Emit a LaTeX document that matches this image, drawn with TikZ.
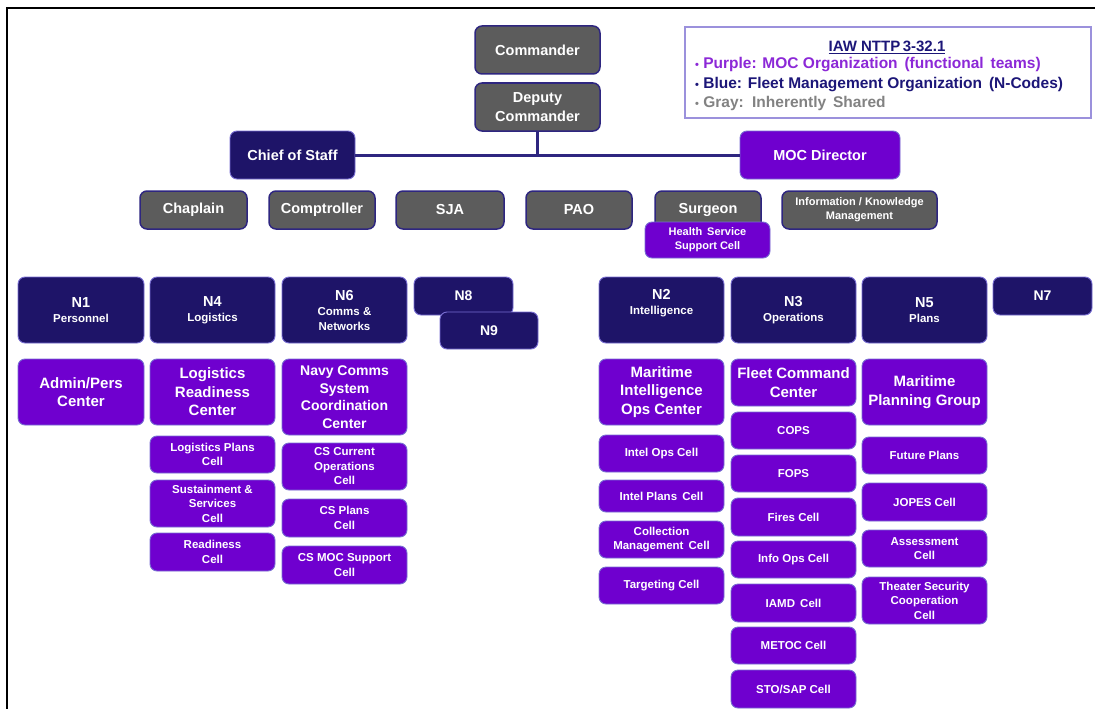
\documentclass[tikz,border=0pt]{standalone}
\usepackage{fontspec}
\setmainfont{Liberation Sans}
\begin{document}
\definecolor{grayfill}{RGB}{92,92,92}
\definecolor{navyfill}{RGB}{30,20,104}
\definecolor{purpfill}{RGB}{111,0,207}
\definecolor{navyline}{RGB}{46,38,128}
\definecolor{lavline}{RGB}{120,110,210}
\definecolor{legpurple}{RGB}{140,40,215}
\definecolor{legnavy}{RGB}{28,22,120}
\definecolor{leggray}{RGB}{130,130,130}
\definecolor{legborder}{RGB}{155,145,220}
\tikzset{
  base/.style={rounded corners=7pt, text=white, align=center, inner sep=0pt, outer sep=0pt},
  graybox/.style={base, fill=grayfill, draw=navyline, line width=1.5pt},
  navybox/.style={base, fill=navyfill, draw=lavline, line width=0.9pt},
  purpbox/.style={base, fill=purpfill, draw=lavline, line width=0.9pt},
  bigtxt/.style={font=\bfseries\fontsize{14.5}{19}\selectfont},
  centxt/.style={font=\bfseries\fontsize{15}{18.5}\selectfont},
  midtxt/.style={font=\bfseries\fontsize{14}{17.5}\selectfont},
  celltxt/.style={font=\bfseries\fontsize{11.5}{14.5}\selectfont},
  smalltxt/.style={font=\bfseries\fontsize{11}{14}\selectfont},
  codetxt/.style={font=\bfseries\fontsize{11.5}{15}\selectfont},
  conn/.style={draw=navyline, line width=3pt},
  legtxt/.style={font=\bfseries\fontsize{15.5}{18}\selectfont, anchor=west, inner sep=0pt}
}
% box from its corner coordinates: name, style, x1, y1, x2, y2, text
\newcommand\bx[7]{\node[#2,minimum width={#5pt-#3pt},minimum height={#6pt-#4pt}] (#1) at ({(#3+#5)/2},{(#4+#6)/2}) {#7};}
\newcommand\ncodebig{\fontsize{14.5}{16}\selectfont}
\newcommand\ncodesub{\fontsize{11.5}{14}\selectfont}
\newcommand\legdot{{\fontsize{11}{11}\selectfont •}}
\begin{tikzpicture}[x=1pt,y=-1pt]
\useasboundingbox (0,0) rectangle (1095,709);
\fill[white] (0,0) rectangle (1095,709);
% frame
\draw[line width=2pt] (7,709) -- (7,8) -- (1095,8);

% command group
\bx{cdr}{graybox,bigtxt}{475}{26}{600}{74}{Commander}
\bx{dep}{graybox,bigtxt}{475}{83}{600}{131}{Deputy\\Commander}
\bx{cos}{navybox,bigtxt}{230}{131}{355}{179}{Chief of Staff}
\bx{moc}{purpbox,bigtxt}{740}{131}{900}{179}{MOC Director}
\draw[conn] (cos.east) -- (moc.west);
\draw[conn] (dep.south) -- (dep.south |- cos.east);

% legend
\bx{legend}{draw=legborder, line width=1.3pt, fill=white}{685}{27}{1091}{118}{}
\node[font=\bfseries\fontsize{15}{18}\selectfont, text=legnavy, inner sep=0pt] (legtitle) at (887,47) {\underline{IAW NTTP\,3-32.1}};
\node[legtxt, text=legpurple] (legp) at (695,65) {\legdot\ Purple: MOC Organization\, (functional\, teams)};
\node[legtxt, text=legnavy] (legb) at (695,85) {\legdot\ Blue: Fleet Management Organization\, (N-Codes)};
\node[legtxt, text=leggray] (legg) at (695,103) {\legdot\ Gray:\, Inherently\, Shared};

% special staff
\bx{chap}{graybox,bigtxt}{140}{191}{247}{229}{Chaplain}
\bx{comp}{graybox,bigtxt}{269}{191}{375}{229}{Comptroller}
\bx{sja}{graybox,bigtxt}{396}{191}{504}{229}{SJA}
\bx{pao}{graybox,bigtxt}{526}{191}{632}{229}{PAO}
\bx{surg}{graybox,bigtxt}{655}{191}{761}{229}{Surgeon}
\bx{ikm}{graybox,smalltxt}{782}{191}{937}{229}{Information / Knowledge\\Management}
\bx{hssc}{purpbox,smalltxt}{645}{222}{770}{258}{Health\, Service\\Support Cell}

% N-codes
\bx{n1}{navybox,codetxt}{18}{277}{144}{343}{\ncodebig N1\\\ncodesub Personnel}
\bx{n4}{navybox,codetxt}{150}{277}{275}{343}{\ncodebig N4\\\ncodesub Logistics}
\bx{n6}{navybox,codetxt}{282}{277}{407}{343}{\ncodebig N6\\\ncodesub Comms \&\\\ncodesub Networks}
\bx{n8}{navybox,midtxt}{414}{277}{513}{315}{N8}
\bx{n9}{navybox,midtxt}{440}{312}{538}{349}{N9}
\bx{n2}{navybox,codetxt}{599}{277}{724}{343}{\ncodebig N2\\\ncodesub Intelligence\\[2pt]}
\bx{n3}{navybox,codetxt}{731}{277}{856}{343}{\ncodebig N3\\\ncodesub Operations}
\bx{n5}{navybox,codetxt}{862}{277}{987}{343}{\\[-4pt]\ncodebig N5\\\ncodesub Plans}
\bx{n7}{navybox,midtxt}{993}{277}{1092}{315}{N7}

% N1 / N4 / N6 columns
\bx{apc}{purpbox,centxt}{18}{359}{144}{425}{Admin/Pers\\Center}
\bx{lrc}{purpbox,centxt}{150}{359}{275}{425}{Logistics\\Readiness\\Center}
\bx{lpc}{purpbox,celltxt}{150}{436}{275}{473}{Logistics Plans\\Cell}
\bx{ssc}{purpbox,celltxt}{150}{480}{275}{527}{Sustainment \&\\Services\\Cell}
\bx{rdc}{purpbox,celltxt}{150}{533}{275}{571}{Readiness\\Cell}
\bx{ncs}{purpbox,midtxt}{282}{359}{407}{435}{Navy Comms\\System\\Coordination\\Center}
\bx{csco}{purpbox,celltxt}{282}{443}{407}{490}{CS Current\\Operations\\Cell}
\bx{cspc}{purpbox,celltxt}{282}{499}{407}{537}{CS Plans\\Cell}
\bx{csms}{purpbox,celltxt}{282}{546}{407}{584}{CS MOC Support\\Cell}

% N2 column
\bx{mioc}{purpbox,centxt}{599}{359}{724}{425}{Maritime\\Intelligence\\Ops Center}
\bx{ioc}{purpbox,celltxt}{599}{435}{724}{472}{Intel Ops Cell}
\bx{ipc}{purpbox,celltxt}{599}{480}{724}{512}{Intel Plans\, Cell}
\bx{cmc}{purpbox,celltxt}{599}{521}{724}{558}{Collection\\Management\, Cell}
\bx{tgc}{purpbox,celltxt}{599}{567}{724}{604}{Targeting Cell}

% N3 column
\bx{fcc}{purpbox,centxt}{731}{359}{856}{406}{Fleet Command\\Center}
\bx{cops}{purpbox,celltxt}{731}{412}{856}{449}{COPS}
\bx{fops}{purpbox,celltxt}{731}{455}{856}{492}{FOPS}
\bx{fires}{purpbox,celltxt}{731}{498}{856}{536}{Fires Cell}
\bx{ioce}{purpbox,celltxt}{731}{541}{856}{578}{Info Ops Cell}
\bx{iamd}{purpbox,celltxt}{731}{584}{856}{622}{IAMD\, Cell}
\bx{metoc}{purpbox,celltxt}{731}{627}{856}{664}{METOC Cell}
\bx{sto}{purpbox,celltxt}{731}{670}{856}{708}{STO/SAP Cell}

% N5 column
\bx{mpg}{purpbox,centxt}{862}{359}{987}{425}{Maritime\\Planning Group}
\bx{fpl}{purpbox,celltxt}{862}{437}{987}{474}{Future Plans}
\bx{jopes}{purpbox,celltxt}{862}{483}{987}{521}{JOPES Cell}
\bx{asc}{purpbox,celltxt}{862}{530}{987}{567}{Assessment\\Cell}
\bx{tscc}{purpbox,celltxt}{862}{577}{987}{624}{Theater Security\\Cooperation\\Cell}
\end{tikzpicture}
\end{document}
